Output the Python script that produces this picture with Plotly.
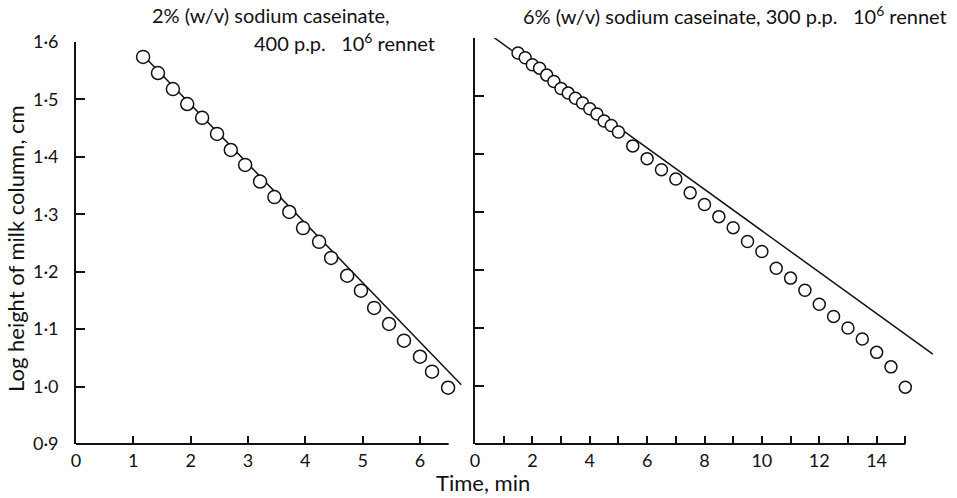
import plotly.graph_objects as go

# 2% (w/v) sodium caseinate, 400 p.p. 10^6 rennet
t_left = [1.17, 1.43, 1.69, 1.94, 2.20, 2.46, 2.70, 2.95, 3.21, 3.46, 3.72,
          3.96, 4.24, 4.45, 4.73, 4.97, 5.20, 5.46, 5.72, 6.00, 6.21, 6.49]
h_left = [1.574, 1.546, 1.518, 1.492, 1.468, 1.440, 1.412, 1.386, 1.357, 1.330, 1.304,
          1.276, 1.252, 1.224, 1.193, 1.167, 1.137, 1.109, 1.080, 1.052, 1.026, 0.998]
fit_left_t = [1.17, 6.72]
fit_left_h = [1.577, 1.003]

# 6% (w/v) sodium caseinate, 300 p.p. 10^6 rennet
t_right = [1.5, 1.75, 2.0, 2.25, 2.5, 2.75, 3.0, 3.25, 3.5, 3.75, 4.0, 4.25, 4.5, 4.75, 5.0,
           5.5, 6.0, 6.5, 7.0, 7.5, 8.0, 8.5, 9.0, 9.5, 10.0, 10.5, 11.0, 11.5, 12.0,
           12.5, 13.0, 13.5, 14.0, 14.5, 15.0]
h_right = [1.574, 1.566, 1.554, 1.548, 1.536, 1.525, 1.513, 1.505, 1.496, 1.488, 1.478,
           1.469, 1.457, 1.449, 1.438,
           1.414, 1.392, 1.373, 1.357, 1.333, 1.313, 1.292, 1.273, 1.249, 1.232, 1.203,
           1.186, 1.165, 1.141, 1.120, 1.100, 1.081, 1.058, 1.033, 0.998]
fit_right_t = [0.63, 15.96]
fit_right_h = [1.602, 1.055]

y_ticks = [0.9, 1.0, 1.1, 1.2, 1.3, 1.4, 1.5, 1.6]
y_ticktext = [f"{v:.1f}".replace(".", "·") for v in y_ticks]
x_left_ticks = [0, 1, 2, 3, 4, 5, 6]
x_right_major = [0, 2, 4, 6, 8, 10, 12, 14]
x_right_minor = [1, 3, 5, 7, 9, 11, 13, 15]
x_left_end = 6.5
x_right_end = 15

FONT = "Lato"
INK = "#111111"
W, H = 957, 498

fig = go.Figure()

fig.add_trace(go.Scatter(x=fit_left_t, y=fit_left_h, mode="lines",
                         line=dict(color=INK, width=1.5), xaxis="x", yaxis="y"))
fig.add_trace(go.Scatter(x=t_left, y=h_left, mode="markers",
                         marker=dict(symbol="circle", size=13, color="white",
                                     line=dict(color=INK, width=1.5)),
                         xaxis="x", yaxis="y", cliponaxis=False))
fig.add_trace(go.Scatter(x=fit_right_t, y=fit_right_h, mode="lines",
                         line=dict(color=INK, width=1.5), xaxis="x2", yaxis="y2"))
fig.add_trace(go.Scatter(x=t_right, y=h_right, mode="markers",
                         marker=dict(symbol="circle", size=12, color="white",
                                     line=dict(color=INK, width=1.5)),
                         xaxis="x2", yaxis="y2", cliponaxis=False))

tickfont = dict(family=FONT, size=18, color=INK)

def px_x(p):
    return p / W

def px_y(p):
    return 1 - p / H

fig.update_layout(
    template="none",
    width=W, height=H,
    margin=dict(l=0, r=0, t=0, b=0, pad=0),
    paper_bgcolor="white", plot_bgcolor="white",
    showlegend=False,
    font=dict(family=FONT, color=INK),
    xaxis=dict(domain=[px_x(76), px_x(463)], range=[0, 6.75], showgrid=False,
               zeroline=False, showline=False, tickmode="array", automargin=False,
               tickvals=x_left_ticks, ticks="inside", ticklen=8, tickwidth=1.5,
               tickcolor=INK, tickfont=tickfont, ticklabelstandoff=4,
               anchor="y", fixedrange=True),
    yaxis=dict(domain=[px_y(444), px_y(42)], range=[0.9, 1.6], showgrid=False,
               zeroline=False, showline=True, linecolor=INK, linewidth=1.8,
               tickmode="array", tickvals=y_ticks, ticktext=y_ticktext, automargin=False,
               ticks="inside", ticklen=9, tickwidth=1.5, tickcolor=INK,
               tickfont=tickfont, ticklabelstandoff=12, anchor="x", fixedrange=True),
    xaxis2=dict(domain=[px_x(475), px_x(934)], range=[0, 16], showgrid=False,
                zeroline=False, showline=False, tickmode="array", automargin=False,
                tickvals=x_right_major, ticks="inside", ticklen=8, tickwidth=1.5,
                tickcolor=INK, tickfont=tickfont, ticklabelstandoff=4,
                minor=dict(tickmode="array", tickvals=x_right_minor, ticks="inside",
                           ticklen=8, tickwidth=1.5, tickcolor=INK, showgrid=False),
                anchor="y2", fixedrange=True),
    yaxis2=dict(domain=[px_y(444), px_y(38)], range=[0.9, 1.6], showgrid=False,
                zeroline=False, showline=True, linecolor=INK, linewidth=1.8,
                tickmode="array", tickvals=y_ticks, ticks="inside", ticklen=9,
                tickwidth=1.5, tickcolor=INK, showticklabels=False, automargin=False,
                anchor="x2", fixedrange=True),
)

# baselines of the time axes stop at the last labelled minute
fig.add_shape(type="line", xref="x", yref="y domain", x0=0, x1=x_left_end, y0=0, y1=0,
              line=dict(color=INK, width=1.8))
fig.add_shape(type="line", xref="x2", yref="y2 domain", x0=0, x1=x_right_end, y0=0, y1=0,
              line=dict(color=INK, width=1.8))

ann_font = dict(family=FONT, size=20, color=INK)
axis_font = dict(family=FONT, size=22, color=INK)
fig.add_annotation(text="2% (w/v) sodium caseinate,", xref="paper", yref="paper",
                   x=px_x(150), y=px_y(15), xanchor="left", yanchor="middle",
                   showarrow=False, font=ann_font)
fig.add_annotation(text="400 p.p.   10<sup>6</sup> rennet", xref="paper", yref="paper",
                   x=px_x(437), y=px_y(42), xanchor="right", yanchor="middle",
                   showarrow=False, font=ann_font)
fig.add_annotation(text="6% (w/v) sodium caseinate, 300 p.p.   10<sup>6</sup> rennet",
                   xref="paper", yref="paper", x=px_x(949), y=px_y(15),
                   xanchor="right", yanchor="middle", showarrow=False, font=ann_font)
fig.add_annotation(text="Time, min", xref="paper", yref="paper",
                   x=px_x(483), y=px_y(482), xanchor="center", yanchor="middle",
                   showarrow=False, font=axis_font)
fig.add_annotation(text="Log height of milk column, cm", xref="paper", yref="paper",
                   x=px_x(15), y=px_y(249), xanchor="center", yanchor="middle",
                   textangle=-90, showarrow=False, font=axis_font)

fig.write_html("out.html", config={"displayModeBar": False},
               post_script="document.body.style.margin = '0';")
